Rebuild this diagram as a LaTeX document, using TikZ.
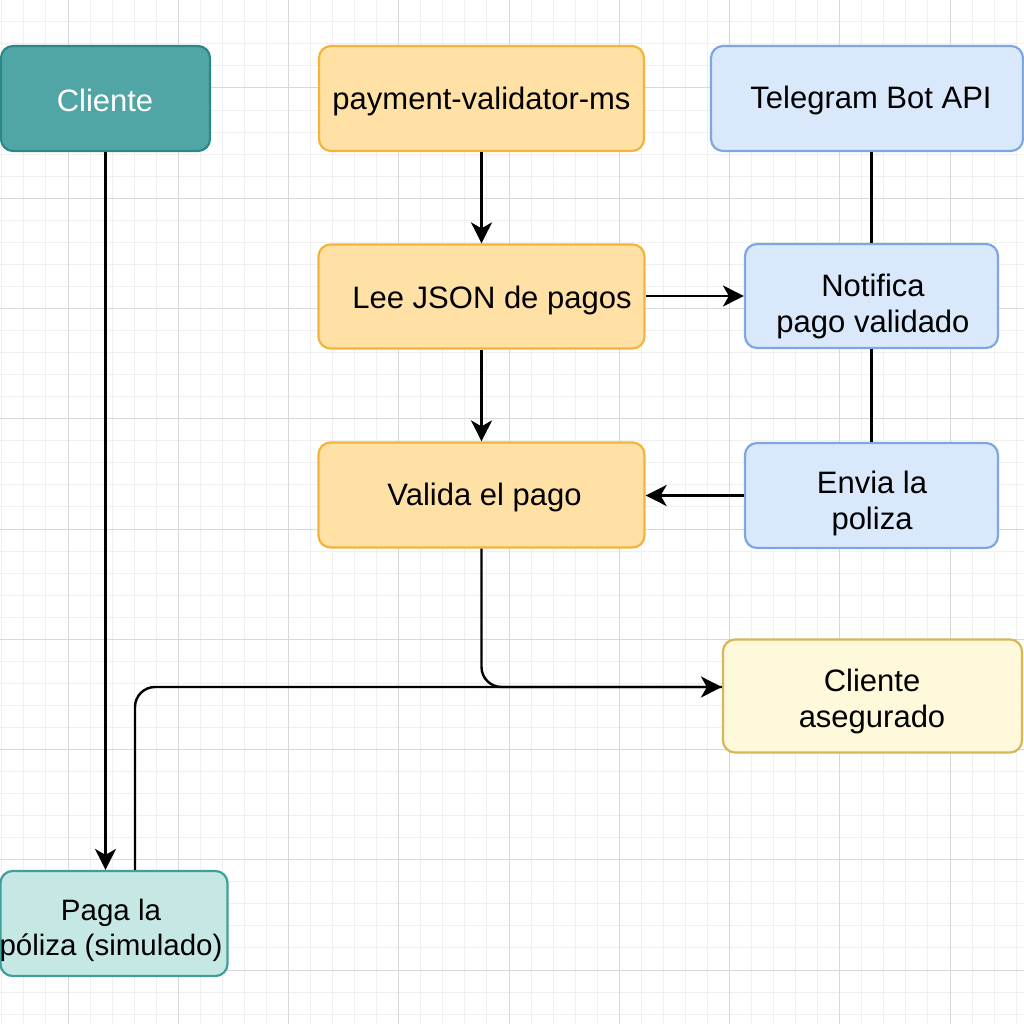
\documentclass[tikz,border=0pt]{standalone}
\usepackage{fontspec}
\setmainfont{Liberation Sans}
\usetikzlibrary{arrows.meta,calc}
\begin{document}
\definecolor{gridmaj}{HTML}{D8D8D8}
\definecolor{gridmin}{HTML}{F0F0F0}
\definecolor{tealfill}{HTML}{52A5A5}
\definecolor{tealdraw}{HTML}{2C8787}
\definecolor{orfill}{HTML}{FFE1A5}
\definecolor{ordraw}{HTML}{F4B43C}
\definecolor{blfill}{HTML}{DAE8FC}
\definecolor{bldraw}{HTML}{7EA6E0}
\definecolor{ltfill}{HTML}{C5E8E4}
\definecolor{ltdraw}{HTML}{409F9B}
\definecolor{yefill}{HTML}{FFF9DC}
\definecolor{yedraw}{HTML}{D6B656}
\tikzset{
  box/.style={rectangle, rounded corners=12pt, line width=2.2pt, inner sep=0pt},
  orbox/.style={box, fill=orfill, draw=ordraw},
  blbox/.style={box, fill=blfill, draw=bldraw},
  txt/.style={align=center, inner sep=0pt, font=\fontsize{31}{36}\selectfont},
  conn/.style={line width=2.4pt, black},
  arr/.style={conn, -{Stealth[length=21pt,width=21pt,inset=6pt]}},
}
\begin{tikzpicture}[x=1pt,y=-1pt]
\useasboundingbox (0,0) rectangle (1024,1024);
\fill[white] (0,0) rectangle (1024,1024);
% grid
\foreach \i in {0,...,46} {
  \draw[gridmin, line width=1pt] ({1.85+22.05*\i},0) -- ({1.85+22.05*\i},1024);
  \draw[gridmin, line width=1pt] (0,{-0.2+22.05*\i}) -- (1024,{-0.2+22.05*\i});
}
\foreach \i in {0,...,8} {
  \draw[gridmaj, line width=1pt] ({68+110.25*\i},0) -- ({68+110.25*\i},1024);
  \draw[gridmaj, line width=1pt] (0,{88+110.25*\i}) -- (1024,{88+110.25*\i});
}
% boxes
\node[box, fill=tealfill, draw=tealdraw, minimum width=209pt, minimum height=105pt] (cli) at (105.5,98.5) {};
\node[orbox, minimum width=325pt, minimum height=105pt] (pv) at (481.5,98.5) {};
\node[blbox, minimum width=312pt, minimum height=105pt] (tg) at (867,98.5) {};
\node[orbox, minimum width=326pt, minimum height=104pt] (lee) at (481.5,296.5) {};
\node[blbox, minimum width=253pt, minimum height=104pt] (not) at (871.5,296) {};
\node[orbox, minimum width=326pt, minimum height=105pt] (val) at (481.5,495) {};
\node[blbox, minimum width=253pt, minimum height=105pt] (env) at (871.5,495.5) {};
\node[box, fill=yefill, draw=yedraw, minimum width=299pt, minimum height=113pt] (ase) at (872.5,696) {};
\node[box, fill=ltfill, draw=ltdraw, minimum width=227pt, minimum height=105pt] (paga) at (114,923.5) {};
% texts
\node[txt, text=white] (clit) at (105,100) {Cliente};
\node[txt] (pvt) at (481.5,101) {payment-validator-ms};
\node[txt] (tgt) at (871,100) {Telegram Bot API};
\node[txt] (leet) at (492,300) {Lee JSON de pagos};
\node[txt] (nott) at (873,306) {Notifica\\pago validado};
\node[txt] (valt) at (484.5,497) {Valida el pago};
\node[txt] (envt) at (872,503) {Envia la\\poliza};
\node[txt] (aset) at (872,701) {Cliente\\asegurado};
\node[txt, font=\fontsize{29.5}{35}\selectfont] (pagat) at (111,930) {Paga la\\póliza (simulado)};
\coordinate (aseIn) at ($(ase.west)+(0,-9)$);
% connectors
\draw[arr] (cli.south) -- (cli.south |- paga.north);
\draw[arr] (pv.south) -- (lee.north);
\draw[arr] (lee.east |- not.west) -- (not.west);
\draw[arr] (lee.south) -- (val.north);
\draw[conn] (not.north) -- (not.north |- tg.south);
\draw[conn] (not.south) -- (env.north);
\draw[arr] (env.west) -- (env.west -| val.east);
\draw[conn, rounded corners=20pt] ([xshift=21pt]paga.north) |- (aseIn);
\draw[arr, rounded corners=20pt] (val.south) |- (aseIn);
\end{tikzpicture}
\end{document}
